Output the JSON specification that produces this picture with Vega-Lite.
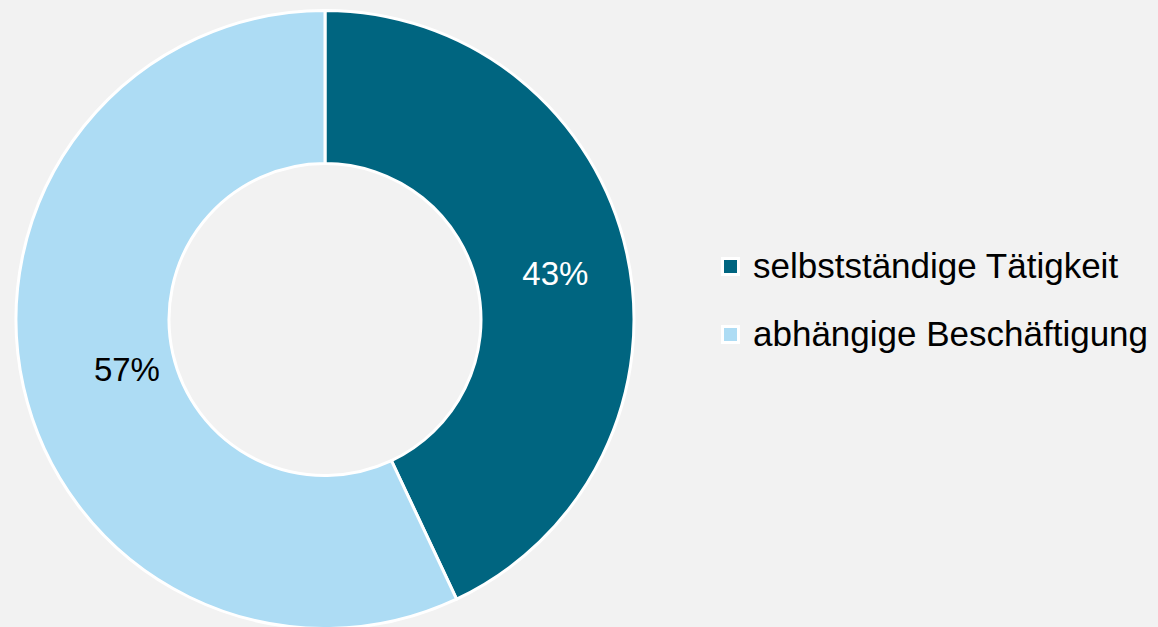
{
  "$schema": "https://vega.github.io/schema/vega-lite/v6.json",
  "width": 650,
  "height": 615,
  "autosize": {"type": "none"},
  "padding": {"left": 0, "top": 12, "right": 508, "bottom": 0},
  "background": "#f2f2f2",
  "config": {"view": {"stroke": null}, "font": "Liberation Sans"},
  "data": {"values": [
    {"kategorie": "selbstständige Tätigkeit", "anteil": 43, "label": "43%"},
    {"kategorie": "abhängige Beschäftigung", "anteil": 57, "label": "57%"}
  ]},
  "encoding": {
    "theta": {"field": "anteil", "type": "quantitative", "stack": true, "scale": {"domain": [0, 100]}},
    "order": {"field": "anteil", "sort": "ascending"}
  },
  "layer": [
    {
      "mark": {"type": "arc", "outerRadius": 309, "innerRadius": 156, "stroke": "white", "strokeWidth": 3},
      "encoding": {
        "color": {
          "field": "kategorie", "type": "nominal",
          "sort": ["selbstständige Tätigkeit", "abhängige Beschäftigung"],
          "scale": {"domain": ["selbstständige Tätigkeit", "abhängige Beschäftigung"], "range": ["#006580", "#addcf4"]},
          "legend": {
            "title": null, "orient": "none", "legendX": 713, "legendY": 237,
            "symbolType": "square", "symbolSize": 256, "symbolStrokeColor": "white", "symbolStrokeWidth": 3,
            "symbolOpacity": 1, "labelFontSize": 35, "labelColor": "#000000", "labelFont": "Liberation Sans",
            "labelOffset": 5, "rowPadding": 32, "labelLimit": 600
          }
        }
      }
    },
    {
      "mark": {"type": "text", "radius": 235, "fontSize": 33, "dy": 7, "dx": 1, "font": "Liberation Sans", "fill": "white"},
      "encoding": {
        "text": {"field": "label"},
        "opacity": {"condition": {"test": "datum.anteil == 43", "value": 1}, "value": 0}
      }
    },
    {
      "mark": {"type": "text", "radius": 205, "fontSize": 33, "dy": 7, "dx": 2, "font": "Liberation Sans", "fill": "black"},
      "encoding": {
        "text": {"field": "label"},
        "opacity": {"condition": {"test": "datum.anteil == 57", "value": 1}, "value": 0}
      }
    }
  ]
}
